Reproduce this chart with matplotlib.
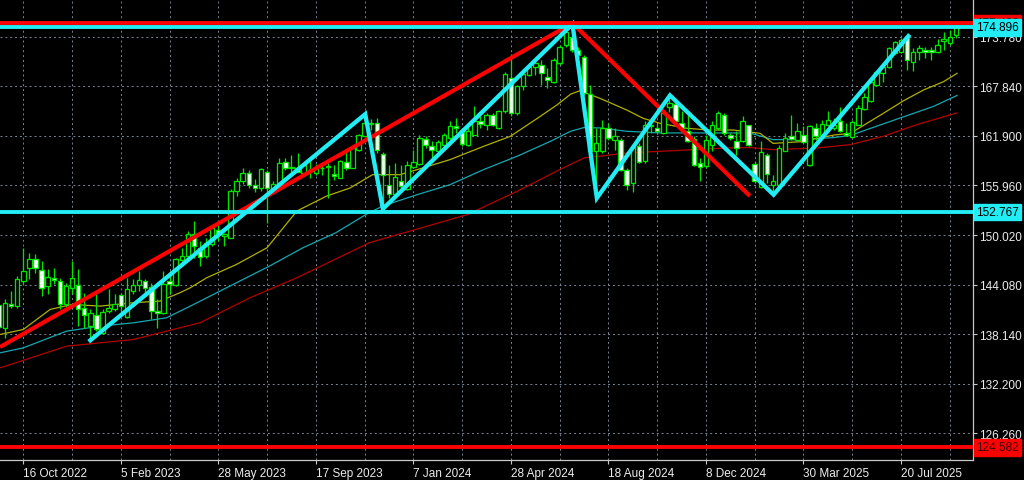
import matplotlib
matplotlib.use("Agg")
import matplotlib.pyplot as plt
from matplotlib.patches import Rectangle
from matplotlib.transforms import blended_transform_factory
import numpy as np

plt.rcParams['font.family'] = ['Liberation Sans', 'DejaVu Sans']

# ---------------- data (weekly candles, week 0 = 16 Oct 2022) ----------------
first_week = -4
opens = [141.6, 138.9, 141.7, 141.5, 144.5, 146.1, 147.1, 145.8, 143.9, 144.9,
         144.5, 141.7, 143.7, 144.0, 141.3, 139.1, 140.4, 138.3, 140.9, 141.1,
         142.8, 140.2, 143.3, 144.0, 144.55, 143.75, 140.9, 140.7, 144.55, 144.0,
         147.0, 147.5, 150.1, 148.5, 147.5, 148.9, 150.6, 149.9, 149.7, 155.25,
         156.5, 157.5, 156.0, 155.65, 157.6, 155.3, 156.1, 158.75, 158.1, 158.1,
         157.45, 157.65, 157.45, 158.0, 158.25, 157.3, 156.9, 158.75, 158.1, 160.25,
         161.85, 163.45, 163.5, 159.7, 156.05, 154.95, 156.55, 155.55, 158.15, 158.55,
         161.55, 160.65, 160.1, 160.75, 161.65, 163.05, 162.65, 160.85, 162.05, 163.65,
         163.25, 164.45, 162.85, 164.85, 168.8, 164.65, 167.85, 169.15, 170.2, 170.4,
         168.9, 168.4, 170.6, 172.8, 173.8, 172.2, 171.4, 166.9, 160.05, 160.05,
         162.85, 161.45, 161.45, 157.75, 156.3, 160.65, 158.85, 163.05, 162.85, 162.25,
         165.3, 165.7, 163.45, 162.5, 161.55, 158.65, 158.25, 160.85, 162.85, 164.45,
         161.95, 161.3, 161.25, 163.15, 158.55, 155.75, 159.65, 156.05, 156.05, 160.1,
         161.85, 161.45, 162.05, 158.45, 162.85, 162.05, 163.25, 162.85, 163.65, 162.3,
         161.75, 163.25, 165.15, 166.05, 168.05, 169.4, 170.1, 171.8, 172.0, 173.7,
         170.75, 171.95, 172.2, 172.2, 171.95, 173.3, 173.0, 174.0]
highs = [142.4, 142.3, 143.3, 145.1, 148.5, 147.9, 147.7, 146.9, 145.9, 146.1,
         144.9, 144.3, 146.9, 145.9, 143.1, 141.1, 142.9, 141.1, 143.5, 142.9,
         143.1, 144.9, 144.7, 145.7, 144.7, 144.3, 142.3, 145.7, 145.7, 147.3,
         148.5, 150.5, 151.7, 149.3, 149.7, 151.1, 151.3, 150.3, 155.5, 156.9,
         158.1, 157.8, 156.7, 158.0, 157.8, 156.45, 159.2, 159.2, 159.6, 159.85,
         158.5, 158.85, 158.5, 158.5, 158.65, 158.45, 159.05, 160.05, 160.65, 162.1,
         164.5, 163.9, 164.0, 160.0, 158.4, 158.6, 158.45, 158.85, 160.25, 162.05,
         161.85, 161.25, 161.45, 162.25, 163.65, 164.05, 162.85, 163.05, 165.45, 164.25,
         164.65, 164.65, 165.05, 169.6, 171.7, 168.05, 169.45, 170.45, 170.85, 171.05,
         170.05, 171.2, 172.8, 175.0, 175.43, 172.6, 171.6, 168.0, 162.9, 163.85,
         163.45, 162.85, 161.65, 158.05, 160.9, 161.05, 163.65, 164.05, 163.45, 164.85,
         166.75, 166.05, 164.85, 164.65, 161.85, 159.25, 162.05, 163.65, 164.85, 164.65,
         162.25, 162.45, 164.25, 163.25, 158.85, 161.25, 159.85, 157.25, 160.85, 162.25,
         164.45, 163.45, 163.05, 163.25, 163.45, 163.85, 164.85, 164.05, 165.3, 163.45,
         163.85, 165.55, 167.05, 168.6, 169.8, 170.4, 172.6, 173.3, 173.6, 174.0,
         172.4, 172.8, 172.6, 172.6, 173.5, 174.4, 174.6, 175.2]
lows = [138.6, 137.7, 141.3, 141.3, 144.1, 144.7, 145.5, 142.7, 142.9, 144.1,
        141.1, 141.3, 142.9, 139.1, 138.9, 137.3, 138.5, 138.1, 140.7, 140.9,
        140.5, 140.1, 142.9, 143.3, 142.9, 139.9, 138.9, 140.5, 142.9, 143.9,
        146.9, 146.9, 147.3, 146.3, 147.3, 148.7, 149.3, 148.7, 149.7, 154.7,
        156.1, 155.7, 155.2, 155.25, 151.5, 155.25, 156.05, 157.85, 157.25, 157.6,
        157.25, 156.85, 157.25, 157.25, 154.45, 156.65, 156.85, 157.85, 158.05, 160.1,
        161.85, 162.6, 159.9, 153.2, 154.45, 154.85, 155.45, 155.45, 158.05, 158.45,
        160.45, 159.25, 160.05, 160.65, 161.45, 162.25, 160.65, 160.65, 161.95, 162.85,
        162.65, 163.05, 162.75, 164.65, 164.25, 164.45, 167.45, 169.05, 169.2, 168.05,
        167.65, 168.2, 170.4, 172.6, 171.9, 171.4, 166.8, 159.6, 154.45, 159.85,
        161.45, 160.25, 157.65, 155.45, 155.15, 158.65, 158.65, 162.25, 162.25, 162.1,
        164.7, 163.45, 162.65, 161.15, 158.25, 156.45, 158.05, 160.05, 162.65, 162.05,
        161.45, 159.65, 161.15, 160.65, 156.25, 155.65, 156.25, 154.85, 155.85, 160.05,
        161.45, 161.25, 161.05, 158.25, 161.45, 161.95, 163.05, 162.65, 162.35, 161.85,
        161.65, 163.15, 165.05, 165.95, 167.95, 168.4, 170.0, 171.7, 171.8, 169.8,
        169.7, 171.0, 171.2, 171.0, 171.8, 172.2, 172.8, 173.6]
closes = [139.0, 141.9, 141.5, 144.7, 145.7, 147.1, 146.1, 143.7, 145.0, 144.6,
          141.7, 143.9, 144.9, 141.1, 140.4, 140.7, 138.7, 140.8, 141.3, 141.7,
          141.5, 143.6, 144.0, 144.6, 143.7, 140.9, 140.7, 144.1, 144.1, 147.1,
          147.5, 150.1, 148.7, 147.4, 149.1, 150.9, 150.1, 150.1, 155.3, 156.5,
          157.5, 156.0, 155.7, 157.9, 155.65, 156.1, 158.7, 158.1, 158.2, 157.6,
          158.35, 157.85, 158.05, 158.1, 158.2, 157.15, 158.85, 158.05, 160.4, 162.05,
          163.45, 163.3, 160.25, 157.25, 154.95, 156.95, 155.85, 158.35, 158.75, 161.65,
          160.75, 160.25, 161.15, 161.95, 163.05, 162.85, 160.9, 162.45, 163.7, 163.3,
          164.45, 163.25, 164.85, 169.3, 164.65, 167.85, 169.3, 170.2, 170.6, 169.4,
          168.6, 171.0, 172.5, 174.4, 172.2, 171.55, 167.0, 160.05, 161.0, 162.85,
          161.65, 161.85, 157.85, 156.05, 160.6, 158.75, 163.25, 163.25, 162.5, 164.65,
          165.8, 163.65, 162.85, 161.3, 158.45, 158.15, 161.45, 163.25, 164.65, 162.25,
          161.7, 160.5, 163.7, 160.85, 156.45, 159.95, 157.35, 156.45, 160.45, 161.7,
          161.55, 162.45, 161.15, 163.05, 161.85, 163.3, 163.75, 163.25, 162.5, 162.05,
          163.55, 165.25, 166.5, 168.4, 169.6, 170.2, 172.4, 173.1, 173.4, 171.0,
          172.0, 172.4, 171.95, 171.9, 172.8, 173.45, 173.8, 174.9]

# moving averages (sampled vertices: week index, price)
ma_fast_weeks = [-3.8, 0, 4.4, 8, 12.6, 18, 22.4, 25.7, 27.4, 30.1, 35, 40, 44.9, 49.8,
                 53.6, 57.3, 61.8, 64.6, 67.3, 70, 75.5, 79.9, 84.4, 87.6, 89.8, 91.3,
                 92.4, 94.6, 99, 101.7, 104.5, 108.9, 112.7, 116.5, 120.9, 123, 127.5,
                 130.2, 133, 135.7, 138.4, 141.1, 144.4, 147.7, 151, 153.2]
ma_fast = [138.1, 138.7, 141.1, 141.7, 141.5, 141.9, 142.1, 143.1, 143.7, 144.9, 146.5,
           148.5, 152.9, 154.7, 155.65, 157.25, 157.25, 157.85, 158.45, 159.05, 160.64,
           161.84, 164.03, 165.63, 166.9, 167.3, 167.0, 166.4, 165.0, 164.0, 163.4,
           162.8, 162.6, 162.6, 162.2, 161.0, 161.2, 161.6, 162.0, 162.2, 163.4, 164.6,
           166.1, 167.4, 168.4, 169.4]
ma_mid_weeks = [-3.8, 0, 7.1, 12.6, 18.1, 23.5, 27.4, 36.6, 40.4, 45.9, 51.3, 56.5, 59,
                64.6, 70, 75.5, 81, 86.5, 89.8, 92, 94.6, 99, 104.5, 110, 115.4, 119.2,
                123, 127.5, 133, 135.7, 138.4, 143.9, 149.4, 153.2]
ma_mid = [135.9, 136.5, 138.5, 139.1, 139.5, 140.1, 141.5, 144.9, 146.3, 148.5, 150.3,
          152.6, 153.5, 154.85, 156.05, 157.85, 159.45, 161.25, 162.45, 162.9, 162.85,
          162.45, 162.25, 162.25, 162.25, 162.24, 161.45, 161.45, 161.7, 161.95, 162.65,
          164.05, 165.45, 166.75]
ma_slow_weeks = [-3.8, 7.1, 12.6, 18.1, 23.5, 29, 37.2, 44.9, 56.8, 72.8, 81, 88, 92, 99,
                 104.5, 110, 115.4, 119.2, 123, 130.2, 135.7, 141.1, 146.6, 153.2]
ma_slow = [134.1, 136.7, 137.1, 137.5, 138.5, 139.5, 142.5, 144.9, 149.1, 152.45, 155.25,
           157.85, 159.25, 159.85, 160.05, 160.25, 160.45, 160.5, 160.25, 160.45, 160.85,
           161.85, 163.25, 164.65]

# drawn objects
zigzag_weeks = [11.0, 56.1, 59.0, 90.1, 94.1, 106.1, 123.1, 145.2]
zigzag_prices = [137.4, 164.5, 153.15, 175.3, 154.45, 166.75, 154.85, 173.85]
trend_up_weeks = [-3.82, 90.1]
trend_up_prices = [136.6, 175.4]
trend_down_weeks = [90.1, 119.2]
trend_down_prices = [175.4, 154.7]

hlines_red = [175.43, 124.582]
hlines_cyan = [174.896, 152.767]

price_ticks = [126.260, 132.200, 138.140, 144.080, 150.020, 155.960, 161.900, 167.840, 173.780]
x_label_weeks = [0, 16, 32, 48, 64, 80, 96, 112, 128, 144]
x_labels = ["16 Oct 2022", "5 Feb 2023", "28 May 2023", "17 Sep 2023", "7 Jan 2024",
            "28 Apr 2024", "18 Aug 2024", "8 Dec 2024", "30 Mar 2025", "20 Jul 2025"]
grid_weeks = list(range(0, 153, 8))

# ---------------- styling ----------------
BG = "black"
LIME = "#00e400"
CYAN = "#22ecf4"
RED = "#ff0000"
C_FAST = "#b0b000"
C_MID = "#14a8b0"
C_SLOW = "#b40000"
GRID = "#7a8694"
FG = "#ececec"

W, H = 1024, 481
fig = plt.figure(figsize=(W / 100, H / 100), dpi=100, facecolor=BG)
ax = fig.add_axes([0, 20 / H, 972.5 / W, 461 / H], facecolor=BG)
ax.set_xlim(-3.82, 155.73)
ax.set_ylim(123.06, 178.30)

for s in ("left", "top"):
    ax.spines[s].set_visible(False)
for s in ("right", "bottom"):
    ax.spines[s].set_color("#c8c8c8")
    ax.spines[s].set_linewidth(0.9)

# grid
for p in price_ticks:
    ax.axhline(p, color=GRID, lw=0.7, ls=(0, (2, 3)), zorder=1)
for g in grid_weeks:
    ax.axvline(g, color=GRID, lw=0.7, ls=(0, (2, 3)), zorder=1)

# moving averages
ax.plot(ma_slow_weeks, ma_slow, color=C_SLOW, lw=0.9, zorder=2)
ax.plot(ma_mid_weeks, ma_mid, color=C_MID, lw=0.9, zorder=2)
ax.plot(ma_fast_weeks, ma_fast, color=C_FAST, lw=0.9, zorder=2)

# candles
weeks = np.arange(first_week, first_week + len(closes))
body_w = 0.74
ax.vlines(weeks, lows, highs, color=LIME, lw=0.95, zorder=3)
for wk, o, c in zip(weeks, opens, closes):
    lo, hi = min(o, c), max(o, c)
    hgt = max(hi - lo, 0.07)
    face = "black" if c >= o else "white"
    ax.add_patch(Rectangle((wk - body_w / 2, lo), body_w, hgt, facecolor=face,
                           edgecolor=LIME, lw=0.95, zorder=4))

# trend lines and zigzag
ax.plot(trend_up_weeks, trend_up_prices, color=RED, lw=3.0, zorder=5, solid_capstyle="butt")
ax.plot(trend_down_weeks, trend_down_prices, color=RED, lw=3.0, zorder=5, solid_capstyle="butt")
ax.plot(zigzag_weeks, zigzag_prices, color=CYAN, lw=3.1, zorder=6, solid_joinstyle="miter")

# horizontal levels
for p in hlines_red:
    ax.axhline(p, color=RED, lw=2.8, zorder=7)
for p in hlines_cyan:
    ax.axhline(p, color=CYAN, lw=2.8, zorder=7)

# ticks
ax.yaxis.tick_right()
ax.set_yticks(price_ticks)
ax.set_yticklabels([f"{p:.3f}" for p in price_ticks])
ax.tick_params(axis="y", colors="#c8c8c8", labelcolor=FG, labelsize=8.5, length=3,
               width=0.8, pad=2, direction="out")
ax.set_xticks(x_label_weeks)
ax.set_xticklabels(x_labels)
for lab in ax.get_xticklabels():
    lab.set_horizontalalignment("left")
ax.tick_params(axis="x", colors="#c8c8c8", labelcolor=FG, labelsize=8.5, length=3,
               width=0.8, pad=2, direction="out")

# price labels for the horizontal levels
trans = blended_transform_factory(ax.transAxes, ax.transData)
x_lab = 1 + 3.5 / 972.5
box = dict(boxstyle="square,pad=0.2")
ax.text(x_lab, hlines_red[0], f"{hlines_red[0]:.3f}", transform=trans, ha="left",
        va="center", fontsize=8.5, color="black", clip_on=False, zorder=8,
        bbox=dict(box, fc=RED, ec=RED))
ax.text(x_lab, hlines_cyan[0], f"{hlines_cyan[0]:.3f}", transform=trans, ha="left",
        va="center", fontsize=8.5, color="black", clip_on=False, zorder=9,
        bbox=dict(box, fc=CYAN, ec=CYAN))
ax.text(x_lab, hlines_cyan[1], f"{hlines_cyan[1]:.3f}", transform=trans, ha="left",
        va="center", fontsize=8.5, color="black", clip_on=False, zorder=9,
        bbox=dict(box, fc=CYAN, ec=CYAN))
ax.text(x_lab, hlines_red[1], f"{hlines_red[1]:.3f}", transform=trans, ha="left",
        va="center", fontsize=8.5, color="#400000", clip_on=False, zorder=9,
        bbox=dict(box, fc=RED, ec=RED))

fig.savefig("out.png", dpi=100, facecolor=BG)
